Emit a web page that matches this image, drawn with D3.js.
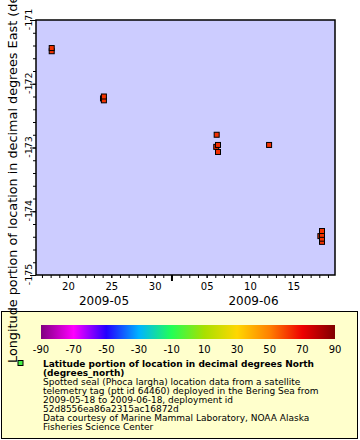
<!DOCTYPE html>
<html><head><meta charset="utf-8">
<script src="https://cdn.jsdelivr.net/npm/d3@7/dist/d3.min.js"></script>
<style>body{margin:0;background:#fff}svg{display:block}text{font-family:"DejaVu Sans",sans-serif}</style>
</head><body>
<svg id="c" width="360" height="440"></svg>
<script>
// Data
const times = ["2009-05-18T03:00","2009-05-18T03:00","2009-05-24T01:00","2009-05-24T03:30","2009-05-24T03:30",
  "2009-06-06T03:50","2009-06-06T02:40","2009-06-06T07:30","2009-06-06T07:30","2009-06-12T05:00",
  "2009-06-18T03:00","2009-06-18T07:30","2009-06-18T07:30","2009-06-18T07:30","2009-06-18T07:30"];
const lons = [-171.49,-171.44,-172.23,-172.26,-172.20,
  -172.80,-172.99,-172.96,-173.07,-172.96,
  -174.39,-174.48,-174.43,-174.37,-174.31];
const lats = [62.4,62.4,62.1,62.1,62.1,62.6,62.6,62.6,62.6,62.3,62.0,62.0,62.0,62.0,62.0];
const yTicks = [-171,-172,-173,-174,-175];
const cbTicks = [-90,-70,-50,-30,-10,10,30,50,70,90];
const cbColors = ["#800080","#ff00ff","#2200ff","#00b4ff","#22ff55","#a8e000","#ffd700","#ff8000","#ee0000","#800000"];
const legendTitle = ["Latitude portion of location in decimal degrees North","(degrees_north)"];
const legendLines = ["Spotted seal (Phoca largha) location data from a satellite",
  "telemetry tag (ptt id 64460) deployed in the Bering Sea from",
  "2009-05-18 to 2009-06-18, deployment id",
  "52d8556ea86a2315ac16872d",
  "Data courtesy of Marine Mammal Laboratory, NOAA Alaska",
  "Fisheries Science Center"];
const yTitle = "Longitude portion of location in decimal degrees East (degrees_east)";

const parse = d3.utcParse("%Y-%m-%dT%H:%M");
const svg = d3.select("#c");
const L=36,R=335,T=20,B=275;
const x = d3.scaleUtc().domain([parse("2009-05-16T07:30"), parse("2009-06-19T19:30")]).range([L,R]);
const y = d3.scaleLinear().domain([-171,-175]).range([T,B]);
const color = d3.scaleLinear().domain(cbTicks).range(cbColors);

svg.append("rect").attr("x",L).attr("y",T).attr("width",R-L).attr("height",B-T).attr("fill","#ccccff");

// X axis minor (days)
const xg = svg.append("g").attr("transform",`translate(0,${B})`);
xg.call(d3.axisBottom(x).ticks(d3.utcDay.every(1)).tickSize(3).tickFormat(""))
  .call(g=>g.select(".domain").remove());
xg.selectAll("line").attr("stroke","#000");
const xl = svg.append("g").attr("transform",`translate(0,${B})`);
xl.call(d3.axisBottom(x).tickValues(x.ticks(d3.utcDay.every(1)).filter(d=>d.getUTCDate()%5===0)).tickSize(3).tickPadding(5).tickFormat(d3.utcFormat("%d")))
  .call(g=>g.select(".domain").remove());
xl.selectAll("text").attr("font-size",10).attr("fill","#000").attr("font-family","DejaVu Sans");
xl.selectAll("line").attr("stroke","#000");
// month ticks
const months = d3.utcMonth.range(x.domain()[0], x.domain()[1]);
svg.append("g").selectAll("line").data(months).join("line")
  .attr("x1",d=>x(d)).attr("x2",d=>x(d)).attr("y1",B).attr("y2",B+6).attr("stroke","#000").attr("stroke-width",2);
// month labels centered over visible parts
const mStarts = [x.domain()[0], ...months];
svg.append("g").selectAll("text").data(mStarts).join("text")
  .attr("x",(d,i)=>{const e=i<mStarts.length-1?mStarts[i+1]:x.domain()[1];return (x(d)+x(e))/2;})
  .attr("y",305).attr("text-anchor","middle").attr("font-size",12).text(d=>d3.utcFormat("%Y-%m")(d));

// Y axis
const yg = svg.append("g").attr("transform",`translate(${L},0)`);
yg.call(d3.axisLeft(y).ticks(20).tickSize(3).tickFormat(""));
yg.selectAll("line").attr("stroke","#000");
yg.select(".domain").remove();
const yl = svg.append("g").attr("transform",`translate(${L},0)`);
yl.call(d3.axisLeft(y).tickValues(yTicks).tickSize(6).tickFormat(d=>String(d)));
yl.select(".domain").remove();
yl.selectAll("line").attr("stroke","#000");
yl.selectAll("text").attr("font-size",9.5).attr("font-family","DejaVu Sans").attr("fill","#000")
  .attr("text-anchor","middle").attr("dy",null).attr("x",null).attr("y",0)
  .attr("transform","translate(-4.5,-1) rotate(-90)");

// frame
svg.append("rect").attr("x",L).attr("y",T).attr("width",R-L).attr("height",B-T).attr("fill","none").attr("stroke","#000").attr("stroke-width",1.5);

// points
const pts = times.map((t,i)=>({t:parse(t),lon:lons[i],lat:lats[i]}));
svg.append("g").selectAll("rect").data(pts).join("rect")
  .attr("x",d=>x(d.t)-2.5).attr("y",d=>y(d.lon)-2.5).attr("width",5).attr("height",5)
  .attr("fill",d=>color(d.lat)).attr("stroke","#000").attr("stroke-width",1);

// legend box
svg.append("rect").attr("x",1.5).attr("y",311.5).attr("width",356).attr("height",127).attr("fill","#ffffcc").attr("stroke","#000");
// colorbar
const cb = d3.scaleLinear().domain([-90,90]).range([41,335]);
const grad = svg.append("defs").append("linearGradient").attr("id","cbg");
grad.selectAll("stop").data(cbTicks).join("stop")
  .attr("offset",d=>(d+90)/180).attr("stop-color",d=>color(d));
svg.append("rect").attr("x",41).attr("y",325).attr("width",294).attr("height",14).attr("fill","url(#cbg)");
svg.append("g").selectAll("text").data(cbTicks).join("text")
  .attr("x",d=>cb(d)).attr("y",353).attr("text-anchor","middle").attr("font-size",10).text(d=>d);
// legend marker
svg.append("rect").attr("x",18).attr("y",360.5).attr("width",5).attr("height",5).attr("fill","#44ee44").attr("stroke","#000");
const lt = svg.append("g");
legendTitle.forEach((s,i)=>lt.append("text").attr("x",43).attr("y",367+i*9).attr("font-size",9).attr("font-weight","bold").text(s));
legendLines.forEach((s,i)=>lt.append("text").attr("x",43).attr("y",385+i*9).attr("font-size",9).text(s));

// y title
svg.append("text").attr("transform","translate(17,363) rotate(-90)").attr("font-size",12.8).text(yTitle);
</script>
</body></html>
